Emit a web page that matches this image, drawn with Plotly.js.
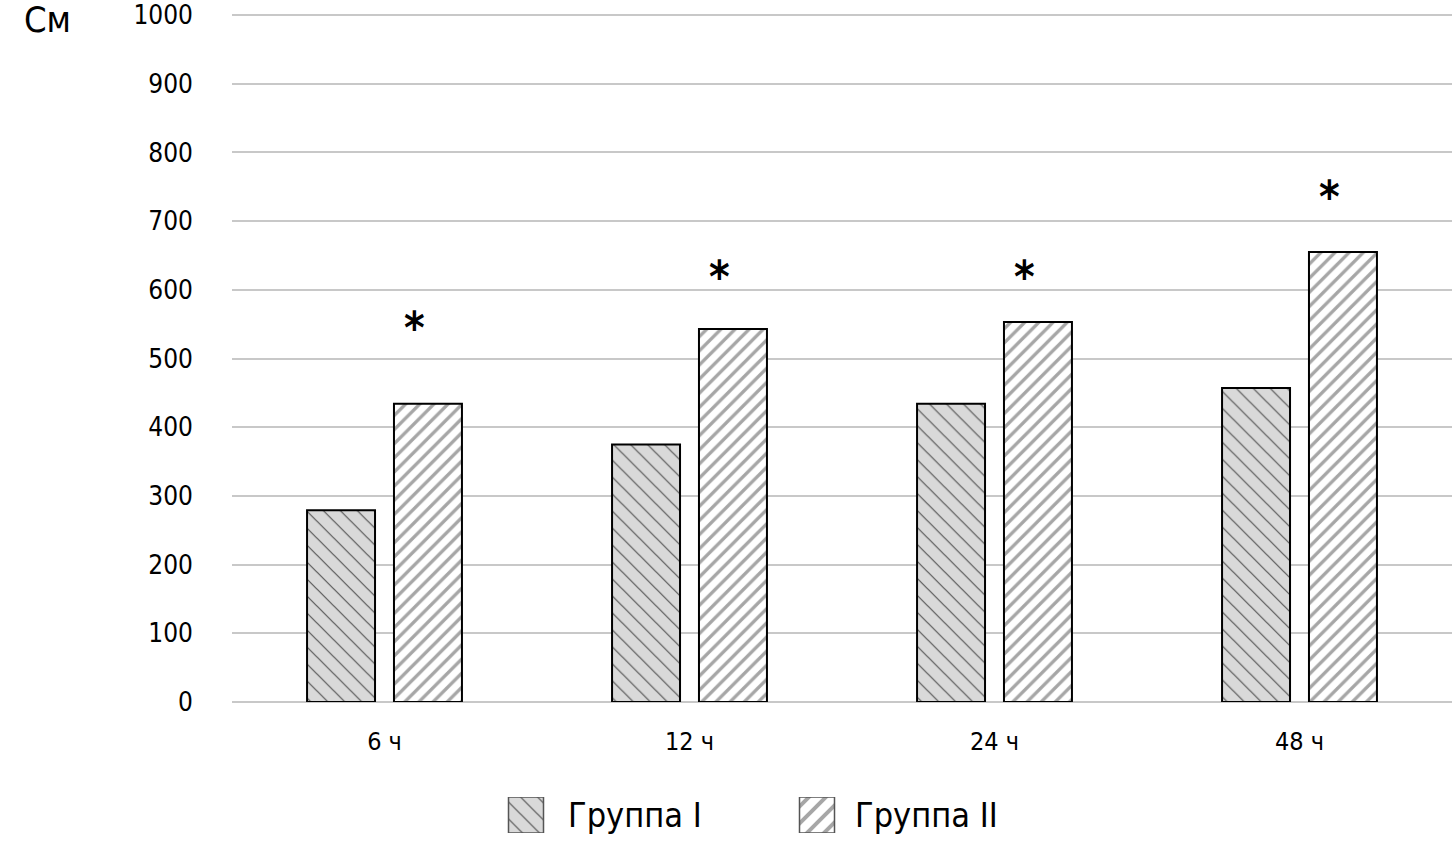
<!DOCTYPE html>
<html><head><meta charset="utf-8">
<script src="https://cdn.plot.ly/plotly-3.0.1.min.js"></script>
<style>html,body{margin:0;padding:0;background:#fff}#chart{width:1452px;height:841px}</style>
</head><body><div id="chart"></div>
<script>
const categories = ['6 ч', '12 ч', '24 ч', '48 ч'];
const group1 = [279, 375, 434, 457];
const group2 = [434, 543, 553, 655];
const starY = [545, 620, 620, 736];
const seriesNames = ['Группа I', 'Группа II'];
const yTicks = [0, 100, 200, 300, 400, 500, 600, 700, 800, 900, 1000];

const FONT = 'DejaVu Sans Condensed, Liberation Sans Narrow, sans-serif';
const pat1 = {shape: '\\', fgcolor: '#555555', bgcolor: '#d9d9d9', size: 12, solidity: 0.1};
const pat2 = {shape: '/', fgcolor: '#a6a6a6', bgcolor: '#ffffff', size: 10, solidity: 0.33};

const W = 1452, H = 841, mt = 12, mb = 5, ml = 232, mr = 0;
const ph = H - mt - mb;
const py = p => (H - mb - p) / ph;
const yTop = 1000 * (702 - mt) / (702 - 15);

const traces = [
  {type: 'bar', x: categories, y: group1, name: seriesNames[0], showlegend: false,
   marker: {color: '#d9d9d9', pattern: pat1, line: {color: '#000', width: 2}}},
  {type: 'bar', x: categories, y: group2, name: seriesNames[1], showlegend: false,
   marker: {color: '#ffffff', pattern: pat2, line: {color: '#000', width: 2}}},
  {type: 'bar', x: [526], y: [1], width: [35], xaxis: 'x2', yaxis: 'y2', showlegend: false, hoverinfo: 'skip',
   marker: {color: '#d9d9d9', pattern: pat1, line: {color: '#555', width: 1.5}}},
  {type: 'bar', x: [817], y: [1], width: [35], xaxis: 'x2', yaxis: 'y2', showlegend: false, hoverinfo: 'skip',
   marker: {color: '#ffffff', pattern: {...pat2, size: 12}, line: {color: '#555', width: 1.5}}}
];

const annotations = categories.map((c, i) => ({
  x: c, y: starY[i], xref: 'x', yref: 'y', xshift: 30, text: '<b>*</b>', showarrow: false,
  font: {family: FONT, size: 44, color: '#000'}, yanchor: 'middle'
}));
annotations.push(
  {xref: 'paper', yref: 'paper', x: (566 - ml) / (W - ml), y: py(815), xanchor: 'left', yanchor: 'middle',
   text: seriesNames[0], showarrow: false, font: {family: FONT, size: 34, color: '#000'}},
  {xref: 'paper', yref: 'paper', x: (853 - ml) / (W - ml), y: py(815), xanchor: 'left', yanchor: 'middle',
   text: seriesNames[1], showarrow: false, font: {family: FONT, size: 34, color: '#000'}},
  {xref: 'paper', yref: 'paper', x: (22 - ml) / (W - ml), y: py(20), xanchor: 'left', yanchor: 'middle',
   text: 'См', showarrow: false, font: {family: FONT, size: 36, color: '#000'}}
);

const layout = {
  width: W, height: H, margin: {l: ml, r: mr, t: mt, b: mb},
  paper_bgcolor: '#fff', plot_bgcolor: '#fff',
  barmode: 'group', bargap: 0.43, bargroupgap: 0.218,
  showlegend: false,
  font: {family: FONT, color: '#000'},
  xaxis: {domain: [0, 1], showgrid: false, showline: false, ticks: '', tickfont: {size: 25},
          ticklabelstandoff: 22, fixedrange: true},
  yaxis: {domain: [py(702), 1], range: [0, yTop], tickvals: yTicks, showgrid: true, gridcolor: '#c8c8c8',
          gridwidth: 2, zeroline: true, zerolinecolor: '#c8c8c8', zerolinewidth: 2, ticks: '',
          tickfont: {size: 26}, ticklabelstandoff: 38, showline: false},
  xaxis2: {domain: [0, 1], range: [ml, W], visible: false, anchor: 'y2'},
  yaxis2: {domain: [py(833), py(797)], range: [0, 1], visible: false, anchor: 'x2'},
  annotations: annotations
};

Plotly.newPlot('chart', traces, layout, {displayModeBar: false, staticPlot: true});
</script></body></html>
